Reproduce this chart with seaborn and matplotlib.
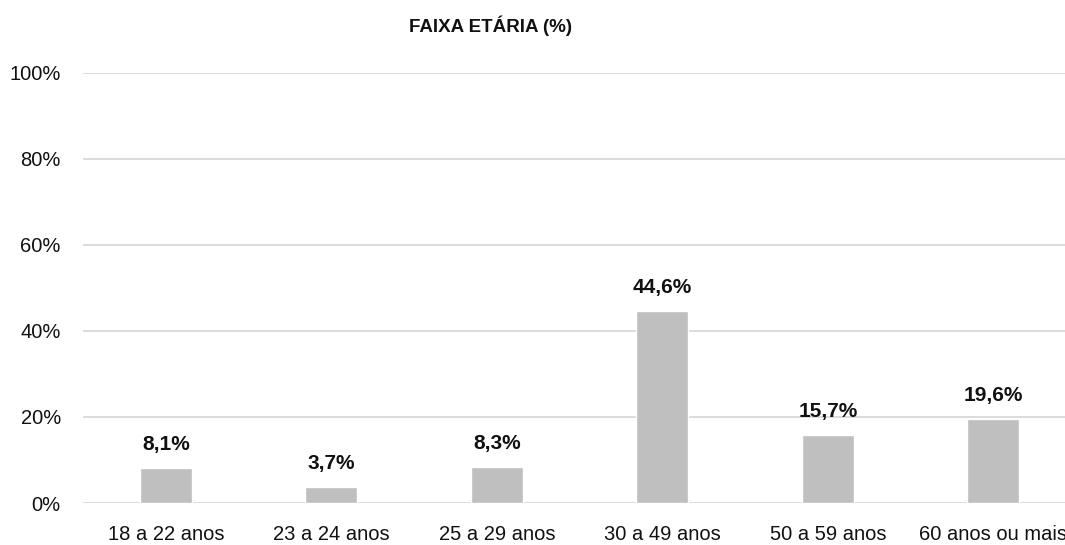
import pandas as pd
import seaborn as sns
import matplotlib.pyplot as plt
from matplotlib.ticker import FuncFormatter

# dados
faixas = ['18 a 22 anos', '23 a 24 anos', '25 a 29 anos', '30 a 49 anos', '50 a 59 anos', '60 anos ou mais']
percentuais = [8.1, 3.7, 8.3, 44.6, 15.7, 19.6]
rotulos = ['8,1%', '3,7%', '8,3%', '44,6%', '15,7%', '19,6%']

df = pd.DataFrame({'faixa': faixas, 'pct': percentuais})

sns.set_style('white')
plt.rcParams['font.family'] = ['Liberation Sans', 'DejaVu Sans']

fig = plt.figure(figsize=(10.65, 5.45), dpi=100)
ax = fig.add_axes([0.078, 0.077, 0.9324, 0.7895])

sns.barplot(data=df, x='faixa', y='pct', color='#bfbfbf', width=0.315, saturation=1, ax=ax, zorder=3)

ax.set_ylim(0, 100)
ax.set_yticks([0, 20, 40, 60, 80, 100])
ax.yaxis.set_major_formatter(FuncFormatter(lambda v, p: f'{v:.0f}%'))
ax.grid(axis='y', color='#d9d9d9', linewidth=1.3, zorder=0)
for s in ax.spines.values():
    s.set_visible(False)
ax.tick_params(axis='both', length=0, labelsize=14.5, colors='#111111')
ax.tick_params(axis='y', pad=16)
ax.tick_params(axis='x', pad=16)
ax.set_xlabel('')
ax.set_ylabel('')

# rótulos das barras
for i, (v, t) in enumerate(zip(percentuais, rotulos)):
    ax.annotate(t, (i, v), xytext=(0, 13), textcoords='offset points',
                ha='center', va='baseline', fontsize=15, fontweight='bold', color='#111111')

fig.text(0.461, 0.952, 'FAIXA ETÁRIA (%)', ha='center', va='center', fontsize=13.5, fontweight='bold', color='#111111')

fig.savefig('out.png', dpi=100)
